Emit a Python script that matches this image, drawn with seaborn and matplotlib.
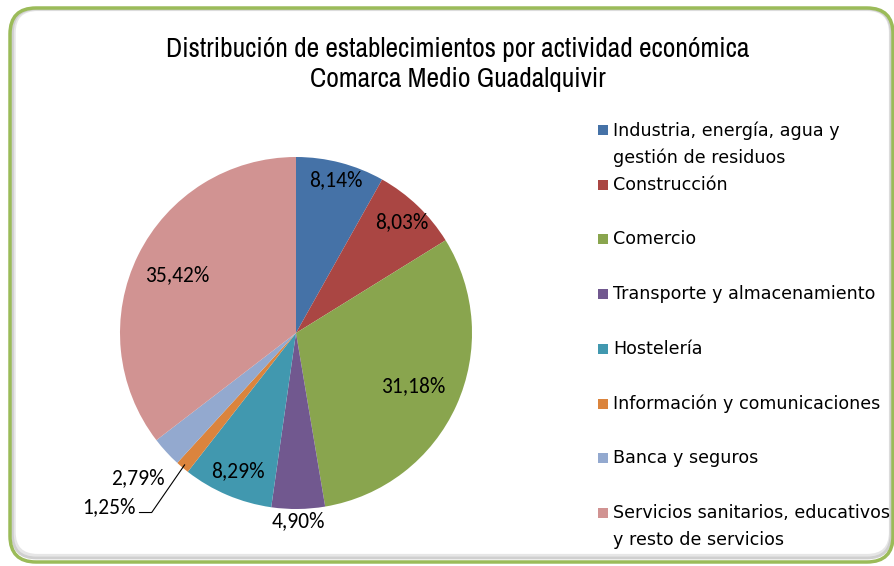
import numpy as np
import matplotlib
matplotlib.use('Agg')
import matplotlib.pyplot as plt
from matplotlib import font_manager
from matplotlib.patches import FancyBboxPatch, Rectangle
from matplotlib.transforms import IdentityTransform
import seaborn as sns

categories = [
    'Industria, energía, agua y\ngestión de residuos',
    'Construcción',
    'Comercio',
    'Transporte y almacenamiento',
    'Hostelería',
    'Información y comunicaciones',
    'Banca y seguros',
    'Servicios sanitarios, educativos\ny resto de servicios',
]
shares = [8.14, 8.03, 31.18, 4.90, 8.29, 1.25, 2.79, 35.42]
colors = ['#4572A7', '#AA4643', '#89A54E', '#71588F',
          '#4198AF', '#DB843D', '#93A9CF', '#D19392']
# label distance from centre, as fraction of radius
label_radius = [0.90, 0.87, 0.73, 1.07, 0.85, None, 1.22, 0.75]

sns.set_theme(style='white')
installed = {f.name for f in font_manager.fontManager.ttflist}


def pick(*cands):
    for c in cands:
        if c in installed:
            return c
    return 'DejaVu Sans'


title_font = pick('Archivo Narrow', 'PT Sans Narrow', 'Roboto Condensed')
label_font = pick('Carlito', 'DejaVu Sans')
plt.rcParams['font.family'] = ['DejaVu Sans']

fig = plt.figure(figsize=(8.94, 5.66), dpi=100)
W, H = 894, 566

# rounded frame with a soft grey shadow inside (pixel coordinates, origin bottom-left)
px = IdentityTransform()
for off, col, lw in [(6, '#E6E6E6', 3), (4, '#CFCFCF', 2)]:
    fig.patches.append(FancyBboxPatch((10 + off * 0.6, 4 + off), 881 - off * 0.6, 553 - off,
                                      boxstyle='round,pad=0,rounding_size=24',
                                      transform=px, facecolor='none',
                                      edgecolor=col, linewidth=lw, zorder=0))
fig.patches.append(FancyBboxPatch((10, 4), 883, 554,
                                  boxstyle='round,pad=0,rounding_size=26',
                                  transform=px, facecolor='none',
                                  edgecolor='#9BBB59', linewidth=2.5, zorder=1))

# pie axes: centre (296, 333), radius 176 px
cx, cy, r = 296, 333, 176
ax = fig.add_axes([(cx - r) / W, (H - cy - r) / H, 2 * r / W, 2 * r / H])
wedges, _ = ax.pie(shares, colors=colors, startangle=90, counterclock=False,
                   radius=1.0, wedgeprops=dict(linewidth=0))
ax.set_xlim(-1, 1)
ax.set_ylim(-1, 1)
ax.set_aspect('equal')
ax.axis('off')

cum = np.cumsum([0] + shares[:-1])
for i, v in enumerate(shares):
    mid = np.deg2rad(90 - (cum[i] + v / 2) * 3.6)
    txt = f'{v:.2f}%'.replace('.', ',')
    if label_radius[i] is None:
        # leader line for the tiny slice
        x0, y0 = 0.98 * np.cos(mid), 0.98 * np.sin(mid)
        ax.plot([x0, -0.82, -0.89], [y0, -1.02, -1.02], color='#000000',
                linewidth=0.8, clip_on=False)
        ax.text(-0.91, -0.99, txt, ha='right', va='center', fontsize=15.5,
                family=label_font, color='#000000', clip_on=False)
        continue
    rr = label_radius[i]
    ax.text(rr * np.cos(mid), rr * np.sin(mid), txt, ha='center', va='center',
            fontsize=15.5, family=label_font, color='#000000', clip_on=False)

fig.text(458 / W, 1 - 49 / H,
         'Distribución de establecimientos por actividad económica',
         ha='center', va='center', fontsize=19.8, family=title_font,
         weight='semibold', color='#000000')
fig.text(458 / W, 1 - 79 / H, 'Comarca Medio Guadalquivir',
         ha='center', va='center', fontsize=19.8, family=title_font,
         weight='semibold', color='#000000')

# legend, first line of each entry aligned with its marker
y_first = 130
step = 54.7
for i, (lab, col) in enumerate(zip(categories, colors)):
    y = y_first + i * step
    fig.patches.append(Rectangle((598 / W, 1 - (y + 5) / H), 10 / W, 10 / H,
                                 transform=fig.transFigure, facecolor=col,
                                 edgecolor='none'))
    fig.text(613 / W, 1 - (y - 9) / H, lab, ha='left', va='top',
             fontsize=12.6, color='#000000', linespacing=1.62)

fig.savefig('out.png', dpi=100)
